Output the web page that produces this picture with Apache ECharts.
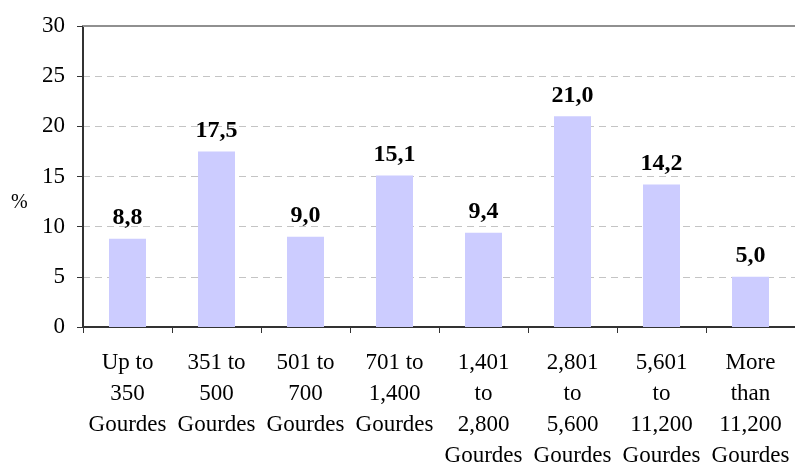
<!DOCTYPE html>
<html>
<head>
<meta charset="utf-8">
<script src="https://cdn.jsdelivr.net/npm/echarts@6/dist/echarts.min.js"></script>
<style>
  html, body { margin: 0; padding: 0; background: #fff; }
  #chart { width: 795px; height: 465px; }
</style>
</head>
<body>
<div id="chart"></div>
<script>
var categories = [
  'Up to\n350\nGourdes',
  '351 to\n500\nGourdes',
  '501 to\n700\nGourdes',
  '701 to\n1,400\nGourdes',
  '1,401\nto\n2,800\nGourdes',
  '2,801\nto\n5,600\nGourdes',
  '5,601\nto\n11,200\nGourdes',
  'More\nthan\n11,200\nGourdes'
];
var values = [8.8, 17.5, 9.0, 15.1, 9.4, 21.0, 14.2, 5.0];
var yTicks = [0, 5, 10, 15, 20, 25, 30];

var serif = '"Liberation Serif", "Times New Roman", serif';

var chart = echarts.init(document.getElementById('chart'));
chart.setOption({
  animation: false,
  grid: { left: 83, right: 0, top: 26, bottom: 138, outerBoundsMode: 'none', containLabel: false },
  xAxis: [{
    type: 'category',
    data: categories,
    axisLine: { lineStyle: { color: '#333', width: 2 } },
    axisTick: { show: true, length: 6, lineStyle: { color: '#333' } },
    axisLabel: {
      interval: 0, margin: 20, color: '#000',
      fontFamily: serif, fontSize: 23, lineHeight: 31
    }
  }, {
    // solid top border at 30
    type: 'category', position: 'top', data: categories,
    axisLine: { show: true, lineStyle: { color: '#909090', width: 2 } },
    axisTick: { show: false }, axisLabel: { show: false }
  }],
  yAxis: {
    type: 'value',
    min: yTicks[0], max: yTicks[yTicks.length - 1], interval: 5,
    axisLine: { show: true, lineStyle: { color: '#333', width: 2 } },
    axisTick: { show: true, length: 6, lineStyle: { color: '#333' } },
    axisLabel: { margin: 18, color: '#000', fontFamily: serif, fontSize: 23 },
    splitLine: { lineStyle: { color: '#c4c4c4', type: [7, 5] } }
  },
  graphic: [{
    type: 'text', left: 11, top: 193,
    style: { text: '%', fontFamily: serif, fontSize: 20, fill: '#000' }
  }],
  series: [{
    type: 'bar',
    data: values,
    barWidth: 37,
    itemStyle: { color: '#ccccff' },
    label: {
      show: true, position: 'top', distance: 9,
      fontFamily: serif, fontSize: 24, fontWeight: 'bold', color: '#000',
      formatter: function (p) { return p.value.toFixed(1).replace('.', ','); }
    }
  }]
});
</script>
</body>
</html>
